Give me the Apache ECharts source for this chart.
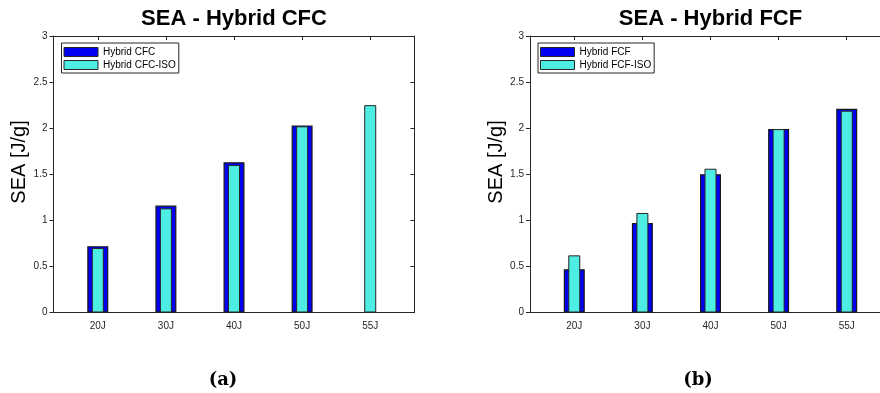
<!DOCTYPE html>
<html>
<head>
<meta charset="utf-8">
<script src="https://cdn.jsdelivr.net/npm/echarts@6/dist/echarts.min.js"></script>
<style>
  html, body { margin: 0; padding: 0; background: #ffffff; }
  #chart { width: 880px; height: 393px; }
</style>
</head>
<body>
<div id="chart"></div>
<script>
// Impact energy levels (x categories)
const categories = ['20J', '30J', '40J', '50J', '55J'];
// Y axis ticks (SEA, J/g)
const yTicks = [0, 0.5, 1, 1.5, 2, 2.5, 3];

// Panel (a): hybrid CFC laminates
const cfcNames = ['Hybrid CFC', 'Hybrid CFC-ISO'];
const cfcValues = [0.72, 1.16, 1.63, 2.03, null];
const cfcIsoValues = [0.70, 1.13, 1.60, 2.02, 2.25];

// Panel (b): hybrid FCF laminates
const fcfNames = ['Hybrid FCF', 'Hybrid FCF-ISO'];
const fcfValues = [0.47, 0.97, 1.50, 1.99, 2.21];
const fcfIsoValues = [0.62, 1.08, 1.56, 1.99, 2.19];

const panels = [
  { title: 'SEA - Hybrid CFC', caption: '(a)', names: cfcNames, wide: cfcValues, narrow: cfcIsoValues, left: 53.5, captionX: 223 },
  { title: 'SEA - Hybrid FCF', caption: '(b)', names: fcfNames, wide: fcfValues, narrow: fcfIsoValues, left: 530, captionX: 698 }
];

const CANVAS_W = 880;
const GRID_TOP = 36, GRID_H = 276.5, GRID_W = 361;
const AXIS_COLOR = '#262626';
const FONT = 'Liberation Sans, Arial, Helvetica, sans-serif';
const tickPositions = categories.map((c, i) => i + 1);
const BLUE = '#0000f2';
const CYAN = '#4eede3';

const grids = [], xAxes = [], yAxes = [], series = [], legends = [], graphics = [];

panels.forEach((p, k) => {
  // the second box runs past the right edge of the canvas, so no bounds clamping
  grids.push({ left: p.left, top: GRID_TOP, width: GRID_W, height: GRID_H, containLabel: false, outerBoundsMode: 'none' });
  const rightEdgeVisible = p.left + GRID_W <= CANVAS_W;

  const xBase = {
    type: 'value', gridIndex: k, min: 0.35, max: 5.65,
    splitLine: { show: false },
    axisLine: { show: true, onZero: false, lineStyle: { color: AXIS_COLOR, width: 1 } },
    axisTick: { show: true, inside: true, length: 4, customValues: tickPositions, lineStyle: { color: AXIS_COLOR } }
  };
  // bottom axis with category labels
  xAxes.push(Object.assign({}, xBase, {
    position: 'bottom',
    axisLabel: {
      show: true, customValues: tickPositions, margin: 9,
      fontFamily: FONT, fontSize: 10, color: '#262626',
      formatter: v => categories[Math.round(v) - 1] || ''
    }
  }));
  // top axis closes the box; also carries the narrow bars
  xAxes.push(Object.assign({}, xBase, {
    position: 'top',
    axisLabel: { show: false }
  }));

  const yBase = {
    type: 'value', gridIndex: k, min: 0, max: 3, interval: 0.5,
    splitLine: { show: false },
    axisLine: { show: true, onZero: false, lineStyle: { color: AXIS_COLOR, width: 1 } }
  };
  yAxes.push(Object.assign({}, yBase, {
    position: 'left',
    axisTick: { show: true, inside: false, length: 4, lineStyle: { color: AXIS_COLOR } },
    axisLabel: {
      show: true, margin: 6, fontFamily: FONT, fontSize: 10, color: '#262626',
      formatter: v => (yTicks.indexOf(v) >= 0 ? String(v) : '')
    }
  }));
  yAxes.push(Object.assign({}, yBase, {
    position: 'right',
    axisLine: { show: rightEdgeVisible, onZero: false, lineStyle: { color: AXIS_COLOR, width: 1 } },
    axisTick: { show: rightEdgeVisible, inside: true, length: 4, lineStyle: { color: AXIS_COLOR } },
    axisLabel: { show: false }
  }));

  series.push({
    name: p.names[0], type: 'bar', xAxisIndex: 2 * k, yAxisIndex: 2 * k,
    barWidth: 21,
    data: p.wide.map((v, i) => [i + 1, v]),
    itemStyle: { color: BLUE, borderColor: '#1a1a1a', borderWidth: 1.2 },
    emphasis: { disabled: true }
  });
  series.push({
    name: p.names[1], type: 'bar', xAxisIndex: 2 * k + 1, yAxisIndex: 2 * k,
    barWidth: 12,
    data: p.narrow.map((v, i) => [i + 1, v]),
    itemStyle: { color: CYAN, borderColor: '#262626', borderWidth: 1 },
    emphasis: { disabled: true }
  });

  legends.push({
    data: p.names, orient: 'vertical',
    left: p.left + 8, top: 43,
    itemWidth: 34, itemHeight: 9, itemGap: 3,
    padding: [4, 3, 3, 2],
    borderColor: '#262626', borderWidth: 1, backgroundColor: '#ffffff',
    icon: 'rect',
    itemStyle: { borderColor: '#262626', borderWidth: 1 },
    textStyle: { fontFamily: FONT, fontSize: 10, color: '#000000' },
    selectedMode: false
  });

  const cx = p.left + GRID_W / 2;
  graphics.push({
    type: 'text', x: cx, y: 19,
    style: { text: p.title, fontFamily: FONT, fontWeight: 'bold', fontSize: 22, fill: '#000000', align: 'center', verticalAlign: 'middle' }
  });
  graphics.push({
    type: 'text', x: p.left - 34, y: 162, rotation: Math.PI / 2,
    style: { text: 'SEA [J/g]', fontFamily: FONT, fontSize: 20, fill: '#000000', align: 'center', verticalAlign: 'middle' }
  });
  graphics.push({
    type: 'text', x: p.captionX, y: 380,
    style: { text: p.caption, fontFamily: 'DejaVu Serif, Liberation Serif, serif', fontWeight: 'bold', fontSize: 18, fill: '#000000', align: 'center', verticalAlign: 'middle' }
  });
});

const chart = echarts.init(document.getElementById('chart'), null, { renderer: 'canvas' });
chart.setOption({
  animation: false,
  backgroundColor: '#ffffff',
  grid: grids,
  xAxis: xAxes,
  yAxis: yAxes,
  legend: legends,
  series: series,
  graphic: graphics
});
</script>
</body>
</html>
